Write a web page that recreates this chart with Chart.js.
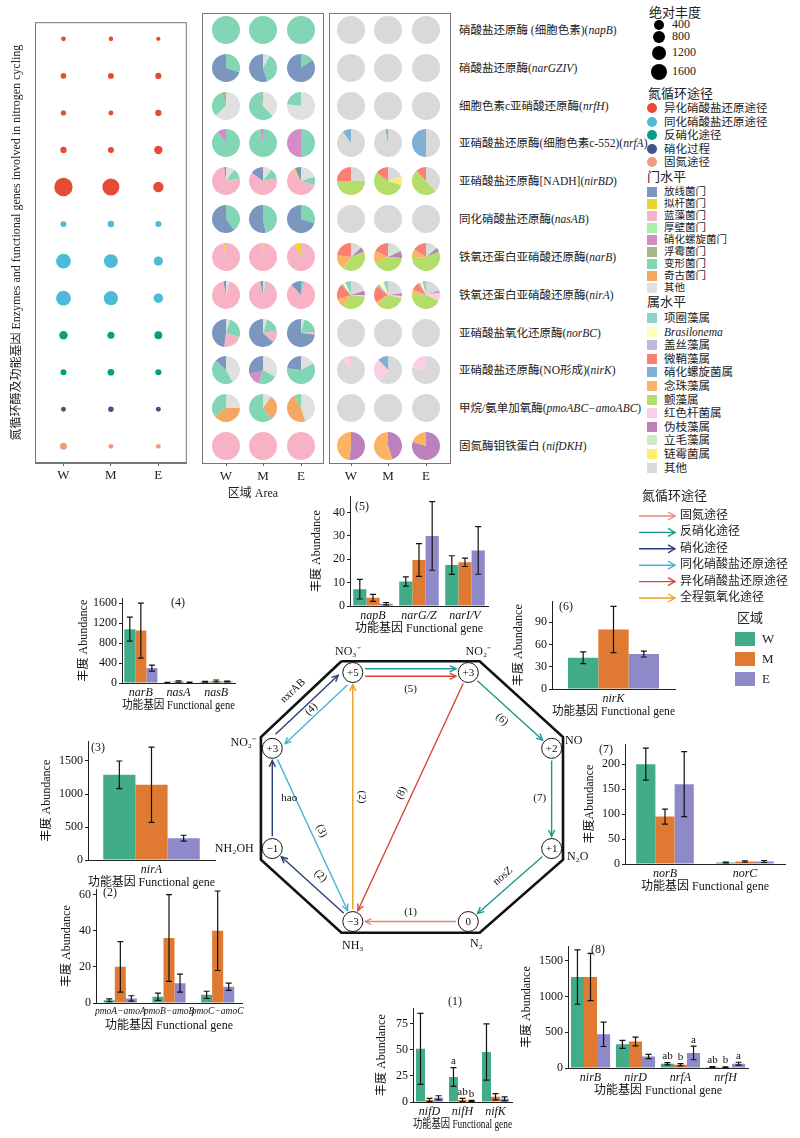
<!DOCTYPE html>
<html>
<head>
<meta charset="utf-8">
<title>Nitrogen cycling genes</title>
<script src="https://cdn.jsdelivr.net/npm/chart.js@4.4.1/dist/chart.umd.min.js"></script>
<style>
  body { margin: 0; background: #fff; }
  #page { position: relative; width: 800px; height: 1138px; overflow: hidden;
          font-family: 'Liberation Serif', 'Noto Sans CJK SC', serif; color: #222; }
  #page canvas { position: absolute; }
  .t { position: absolute; white-space: nowrap; line-height: 1.1; }
  .frame { position: absolute; border: 1px solid #777; box-sizing: border-box; }
</style>
</head>
<body>
<div id="page"></div>
<script>
// ---------- top panel data ----------
const sites = ['W', 'M', 'E'];
const siteColors = ['#40ad88', '#e07a32', '#8e89c8'];

const pathNames = ['异化硝酸盐还原途径', '同化硝酸盐还原途径', '反硝化途径', '硝化过程', '固氮途径'];
const pathColors = ['#e64b35', '#4dbbd5', '#00a087', '#3c5488', '#f39b7f'];

const geneNames = ['硝酸盐还原酶 (细胞色素)', '硝酸盐还原酶', '细胞色素c亚硝酸还原酶', '亚硝酸盐还原酶(细胞色素c-552)',
  '亚硝酸盐还原酶[NADH]', '同化硝酸盐还原酶', '铁氧还蛋白亚硝酸还原酶', '铁氧还蛋白亚硝酸还原酶',
  '亚硝酸盐氧化还原酶', '亚硝酸盐还原酶(NO形成)', '甲烷/氨单加氧酶', '固氮酶钼铁蛋白 '];
const geneCodes = ['napB', 'narGZIV', 'nrfH', 'nrfA', 'nirBD', 'nasAB', 'narB', 'nirA', 'norBC', 'nirK', 'pmoABC−amoABC', 'nifDKH'];
const genePath = [0, 0, 0, 0, 0, 1, 1, 1, 2, 2, 3, 4];

// absolute abundance (bubble size)
const abundW = [7, 28, 15, 60, 2300, 40, 1300, 1300, 205, 42, 8, 103];
const abundM = [4, 38, 10, 45, 1900, 70, 1100, 1150, 100, 80, 25, 9];
const abundE = [1, 54, 60, 210, 450, 45, 300, 330, 165, 47, 10, 8];
const sizeBreaks = [400, 800, 1200, 1600];

// phylum shares (%), legend order
const phylumNames = ['放线菌门', '拟杆菌门', '蓝藻菌门', '厚壁菌门', '硝化螺旋菌门', '浮霉菌门', '变形菌门', '奇古菌门', '其他'];
const phylumColors = ['#7b96bf', '#e8d530', '#f7b2c6', '#a6f5a6', '#d58cc6', '#a2b98a', '#82d6b6', '#f4a761', '#e0e0e0'];
const phylumW = [
  [0, 0, 0, 0, 0, 0, 100, 0, 0], [70, 0, 0, 0, 0, 0, 30, 0, 0], [0, 0, 0, 0, 0, 5, 32, 0, 63],
  [0, 0, 0, 0, 10, 0, 90, 0, 0], [2, 0, 76, 0, 0, 0, 12, 0, 10], [60, 0, 0, 0, 0, 0, 40, 0, 0],
  [0, 3, 97, 0, 0, 0, 0, 0, 0], [3, 0, 93, 0, 0, 0, 0, 0, 4], [48, 0, 22, 0, 0, 0, 25, 0, 5],
  [13, 0, 0, 0, 0, 0, 45, 0, 42], [0, 0, 0, 0, 0, 0, 35, 40, 25], [0, 0, 100, 0, 0, 0, 0, 0, 0]];
const phylumM = [
  [0, 0, 0, 0, 0, 0, 100, 0, 0], [55, 0, 0, 0, 0, 0, 37, 0, 8], [0, 0, 0, 0, 0, 2, 60, 0, 38],
  [0, 0, 0, 0, 3, 0, 97, 0, 0], [15, 0, 63, 0, 0, 0, 12, 0, 10], [53, 0, 0, 0, 0, 0, 47, 0, 0],
  [0, 0.6, 99.4, 0, 0, 0, 0, 0, 0], [3, 0, 92, 0, 0, 0, 2, 0, 3], [63, 0, 15, 0, 0, 0, 17, 0, 5],
  [30, 0, 0, 0, 15, 0, 22, 0, 33], [0, 0, 0, 0, 0, 0, 60, 30, 10], [0, 0, 100, 0, 0, 0, 0, 0, 0]];
const phylumE = [
  [0, 0, 0, 0, 0, 0, 100, 0, 0], [85, 0, 0, 0, 0, 0, 15, 0, 0], [0, 0, 0, 0, 0, 0, 23, 0, 77],
  [0, 0, 0, 0, 50, 0, 50, 0, 0], [7, 3, 60, 0, 0, 0, 10, 0, 20], [70, 0, 0, 0, 0, 0, 30, 0, 0],
  [0, 7, 93, 0, 0, 0, 0, 0, 0], [12, 0, 84, 0, 0, 0, 4, 0, 0], [73, 0, 3, 0, 0, 0, 20, 0, 4],
  [23, 0, 0, 0, 0, 0, 60, 0, 17], [0, 0, 0, 0, 0, 0, 8, 47, 45], [0, 0, 100, 0, 0, 0, 0, 0, 0]];

// genus shares (%), legend order
const genusNames = ['项圈藻属', 'Brasilonema', '盖丝藻属', '微鞘藻属', '硝化螺旋菌属', '念珠藻属', '颤藻属',
  '红色杆菌属', '伪枝藻属', '立毛藻属', '链霉菌属', '其他'];
const genusColors = ['#8dd3c7', '#ffffb3', '#bebada', '#fb8072', '#80b1d3', '#fdb462', '#b3de69',
  '#fccde5', '#bc80bd', '#ccebc5', '#ffed6f', '#d9d9d9'];
const genusW = [
  [0, 0, 0, 0, 0, 0, 0, 0, 0, 0, 0, 100], [0, 0, 0, 0, 0, 0, 0, 0, 0, 0, 0, 100], [0, 0, 0, 0, 0, 0, 0, 0, 0, 0, 0, 100],
  [0, 0, 0, 0, 10, 0, 0, 0, 0, 0, 0, 90], [0, 0, 0, 25, 0, 0, 50, 0, 0, 0, 0, 25], [0, 0, 0, 0, 0, 0, 0, 0, 0, 0, 0, 100],
  [0, 0, 0, 23, 0, 18, 40, 0, 6, 3, 0, 10], [7, 3, 2, 18, 0, 10, 33, 2, 5, 0, 0, 20], [0, 0, 0, 0, 0, 0, 0, 0, 0, 0, 0, 100],
  [0, 0, 0, 0, 0, 0, 0, 10, 0, 0, 0, 90], [0, 0, 0, 0, 0, 0, 0, 0, 0, 0, 0, 100], [0, 0, 0, 0, 0, 48, 0, 0, 52, 0, 0, 0]];
const genusM = [
  [0, 0, 0, 0, 0, 0, 0, 0, 0, 0, 0, 100], [0, 0, 0, 0, 0, 0, 0, 0, 0, 0, 0, 100], [0, 0, 0, 0, 0, 0, 0, 0, 0, 0, 0, 100],
  [0, 0, 0, 0, 3, 0, 0, 0, 0, 0, 0, 97], [0, 0, 0, 15, 0, 0, 55, 0, 0, 0, 10, 20], [0, 0, 0, 0, 0, 0, 0, 0, 0, 0, 0, 100],
  [0, 0, 0, 18, 0, 14, 42, 0, 8, 8, 0, 10], [5, 6, 3, 20, 0, 2, 35, 3, 3, 0, 0, 23], [0, 0, 0, 0, 0, 0, 0, 0, 0, 0, 0, 100],
  [0, 0, 0, 0, 12, 0, 0, 28, 0, 0, 0, 60], [0, 0, 0, 0, 0, 0, 0, 0, 0, 0, 0, 100], [0, 0, 0, 0, 0, 55, 0, 0, 45, 0, 0, 0]];
const genusE = [
  [0, 0, 0, 0, 0, 0, 0, 0, 0, 0, 0, 100], [0, 0, 0, 0, 0, 0, 0, 0, 0, 0, 0, 100], [0, 0, 0, 0, 0, 0, 0, 0, 0, 0, 0, 100],
  [0, 0, 0, 0, 50, 0, 0, 0, 0, 0, 0, 50], [0, 0, 0, 12, 0, 0, 50, 0, 0, 0, 0, 38], [0, 0, 0, 0, 0, 0, 0, 0, 0, 0, 0, 100],
  [0, 0, 0, 16, 0, 10, 55, 0, 5, 4, 0, 10], [4, 3, 2, 10, 0, 4, 45, 10, 2, 0, 0, 20], [0, 0, 0, 0, 0, 0, 0, 0, 0, 0, 0, 100],
  [0, 0, 0, 0, 0, 0, 0, 22, 0, 0, 0, 78], [0, 0, 0, 0, 0, 0, 0, 0, 0, 0, 0, 100], [0, 0, 0, 0, 0, 20, 0, 0, 80, 0, 0, 0]];

// ---------- bar chart data (mean, +/- error) ----------
const g1 = ['nifD', 'nifH', 'nifK'];
const v1W = [51, 24, 48], v1M = [2, 2, 5], v1E = [4, 1, 3];
const e1W = [34, 9, 27], e1M = [1.5, 1.5, 3], e1E = [2, 0.6, 2];
const s1W = ['', 'a', ''], s1M = ['', 'ab', ''], s1E = ['', 'b', ''];

const g2 = ['pmoA−amoA', 'pmoB−amoB', 'pmoC−amoC'];
const v2W = [1.5, 3.5, 4.5], v2M = [20, 36, 40], v2E = [2.5, 11, 9];
const e2W = [0.8, 2, 2], e2M = [14, 24, 22], e2E = [1.5, 5, 2];

const g3 = ['nirA'];
const v3W = [1290], v3M = [1140], v3E = [330];
const e3W = [210], e3M = [570], e3E = [45];

const g4 = ['narB', 'nasA', 'nasB'];
const v4W = [1080, 10, 25], v4M = [1050, 30, 40], v4E = [300, 12, 30];
const e4W = [240, 5, 8], e4M = [550, 15, 20], e4E = [60, 5, 10];

const g5 = ['napB', 'narG/Z', 'narI/V'];
const v5W = [7.2, 10.5, 17.5], v5M = [3.5, 19.7, 18.7], v5E = [1, 30, 23.8];
const e5W = [4.2, 2, 4], e5M = [1.5, 7, 1.8], e5E = [0.5, 14.7, 10.2];

const g6 = ['nirK'];
const v6W = [42], v6M = [80], v6E = [47];
const e6W = [8], e6M = [31], e6E = [4];

const g7 = ['norB', 'norC'];
const v7W = [200, 3], v7M = [95, 5], v7E = [160, 5];
const e7W = [32, 1], e7M = [15, 1.5], e7E = [65, 2];

const g8 = ['nirB', 'nirD', 'nrfA', 'nrfH'];
const v8W = [1270, 330, 60, 15], v8M = [1270, 370, 45, 10], v8E = [470, 160, 210, 60];
const e8W = [380, 55, 15, 5], e8M = [330, 60, 15, 5], e8E = [170, 30, 95, 20];
const s8W = ['', '', 'ab', 'ab'], s8M = ['', '', 'b', 'b'], s8E = ['', '', 'a', 'a'];

// ---------- nitrogen cycle diagram ----------
const nodeText = ['+5', '+3', '+2', '+1', '0', '−3', '−1', '+3'];
const nodeSpecies = ['NO₃⁻', 'NO₂⁻', 'NO', 'N₂O', 'N₂', 'NH₃', 'NH₂OH', 'NO₂⁻'];
const nodeX = [350, 472, 560, 560, 472, 350, 265, 265];
const nodeY = [664, 664, 745, 852, 930, 930, 852, 745];
const speciesDx = [-5, 10, 22, 26, 8, 0, -38, -29];
const speciesDy = [-21, -21, -8, 8, 22, 24, 0, -6];
const octX = [338, 484, 572, 572, 484, 338, 253, 253, 338];
const octY = [652, 652, 733, 864, 942, 942, 864, 733, 652];

const routeNames = ['固氮途径', '反硝化途径', '硝化途径', '同化硝酸盐还原途径', '异化硝酸盐还原途径', '全程氨氧化途径'];
const routeColors = ['#e38a74', '#159a8c', '#2c3e7a', '#46b4d8', '#d8453a', '#eb9f1c'];
const arrowFrom  = [4, 5, 6, 7, 0, 7, 0, 0, 1, 2, 3, 5, 1];
const arrowTo    = [5, 6, 7, 0, 7, 5, 1, 1, 2, 3, 4, 0, 5];
const arrowRoute = [0, 2, 2, 2, 3, 3, 1, 4, 1, 1, 1, 5, 4];
const arrowText  = ['(1)', '(2)', 'hao', 'nxrAB', '(4)', '(3)', '', '(5)', '(6)', '(7)', 'nosZ', '(2)', '(8)'];
const arrowShift = [[0, 0], [0, 0], [0, 0], [-6, -6], [4, 4], [0, 0], [0, -4], [0, 4], [0, 0], [0, 0], [0, 0], [0, 0], [0, 0]];
const labelShift = [[0, -9], [8, -9], [17, 0], [-14, -14], [-5, -5], [9, -4], [0, 0], [0, 13], [-8, 9], [-12, 0], [-7, -9], [9, 0], [-9, -4]];
const labelRot   = [false, true, false, true, true, true, false, false, true, false, true, true, true];

// ---------- helpers ----------
const SERIF = "'Liberation Serif','Noto Sans CJK SC',serif";
Chart.defaults.font.family = SERIF;
Chart.defaults.color = '#111';
Chart.defaults.animation = false;

const page = document.getElementById('page');

function mkCanvas(l, t, w, h) {
  const c = document.createElement('canvas');
  c.width = w; c.height = h;
  c.style.left = l + 'px'; c.style.top = t + 'px';
  c.style.width = w + 'px'; c.style.height = h + 'px';
  page.appendChild(c);
  return c;
}

function text(html, x, y, size, align) {
  const d = document.createElement('div');
  d.className = 't';
  d.style.left = x + 'px'; d.style.top = y + 'px';
  d.style.fontSize = size + 'px';
  const tx = align === 'center' ? '-50%' : align === 'right' ? '-100%' : '0';
  d.style.transform = `translate(${tx},-50%)`;
  d.innerHTML = html;
  page.appendChild(d);
}

function block(x, y, w, h, color, round) {
  const d = document.createElement('div');
  d.style.position = 'absolute';
  d.style.left = x + 'px'; d.style.top = y + 'px';
  d.style.width = w + 'px'; d.style.height = h + 'px';
  d.style.background = color;
  if (round) d.style.borderRadius = '50%';
  page.appendChild(d);
}

const bubbleR = v => 2 + 0.15 * Math.sqrt(v);

const framePlugin = {
  id: 'frame',
  afterDraw(chart) {
    const a = chart.chartArea, ctx = chart.ctx;
    ctx.save();
    ctx.strokeStyle = '#777';
    ctx.lineWidth = 1;
    ctx.strokeRect(a.left + 0.5, a.top + 0.5, a.right - a.left - 1, a.bottom - a.top - 1);
    ctx.restore();
  }
};

const errPlugin = {
  id: 'errBars',
  afterDatasetsDraw(chart) {
    const ctx = chart.ctx, ys = chart.scales.y;
    ctx.save();
    chart.data.datasets.forEach((ds, i) => {
      chart.getDatasetMeta(i).data.forEach((bar, j) => {
        const v = ds.data[j], e = ds.err[j];
        const top = ys.getPixelForValue(v + e);
        const bot = ys.getPixelForValue(Math.max(v - e, 0));
        ctx.strokeStyle = '#111';
        ctx.lineWidth = 1.2;
        ctx.beginPath();
        ctx.moveTo(bar.x, top); ctx.lineTo(bar.x, bot);
        ctx.moveTo(bar.x - 3, top); ctx.lineTo(bar.x + 3, top);
        ctx.moveTo(bar.x - 3, bot); ctx.lineTo(bar.x + 3, bot);
        ctx.stroke();
        if (ds.sig && ds.sig[j]) {
          ctx.fillStyle = '#111';
          ctx.font = '11px ' + SERIF;
          ctx.textAlign = 'center';
          ctx.textBaseline = 'bottom';
          ctx.fillText(ds.sig[j], bar.x, top - 1);
        }
      });
    });
    ctx.restore();
  }
};

// ---------- top: bubble panel ----------
const bubbleCanvas = mkCanvas(10, 13, 186, 472);
new Chart(bubbleCanvas, {
  type: 'bubble',
  data: {
    datasets: [abundW, abundM, abundE].map((arr, c) => ({
      label: sites[c],
      data: arr.map((v, i) => ({ x: c + 1, y: i + 1, r: bubbleR(v) })),
      backgroundColor: genePath.map(p => pathColors[p]),
      borderWidth: 0
    }))
  },
  options: {
    responsive: false,
    events: [],
    layout: { padding: { top: 0, right: 1, left: 0, bottom: 0 } },
    plugins: { legend: { display: false }, tooltip: { enabled: false } },
    scales: {
      x: {
        type: 'linear', min: 0.4, max: 3.6,
        afterBuildTicks: s => { s.ticks = sites.map((_, i) => ({ value: i + 1 })); },
        ticks: { callback: v => sites[v - 1], font: { size: 13 }, color: '#222', padding: 2 },
        grid: { drawOnChartArea: false, tickLength: 3, color: '#666' },
        border: { color: '#777' },
        afterFit: s => { s.height = 22; }
      },
      y: {
        type: 'linear', min: 0.55, max: 12.45, reverse: true,
        ticks: { display: false },
        grid: { display: false },
        border: { display: false },
        title: { display: true, text: '氮循环酶及功能基因 Enzymes and functional genes involved in nitrogen cycling',
                 font: { size: 12 }, color: '#222', padding: 0 },
        afterFit: s => { s.width = 25; }
      }
    }
  },
  plugins: [framePlugin]
});

// ---------- top: pie grids ----------
const rowY = i => 13 + (i + 0.45) * (450 / 11.9);
const pieCols1 = [226, 263, 301];
const pieCols2 = [351, 388, 426];

function pieCell(cx, cy, values, colors, names) {
  const size = 28;
  const c = mkCanvas(Math.round(cx - size / 2), Math.round(cy - size / 2), size, size);
  new Chart(c, {
    type: 'pie',
    data: {
      labels: names.slice().reverse(),
      datasets: [{ data: values.slice().reverse(), backgroundColor: colors.slice().reverse(), borderWidth: 0 }]
    },
    options: {
      responsive: false, events: [],
      plugins: { legend: { display: false }, tooltip: { enabled: false } }
    }
  });
}

[phylumW, phylumM, phylumE].forEach((rows, c) => {
  rows.forEach((vals, i) => pieCell(pieCols1[c], rowY(i), vals, phylumColors, phylumNames));
});
[genusW, genusM, genusE].forEach((rows, c) => {
  rows.forEach((vals, i) => pieCell(pieCols2[c], rowY(i), vals, genusColors, genusNames));
});

[[202, pieCols1], [329, pieCols2]].forEach(([left, cols]) => {
  const f = document.createElement('div');
  f.className = 'frame';
  f.style.left = left + 'px'; f.style.top = '13px';
  f.style.width = '122px'; f.style.height = '451px';
  page.appendChild(f);
  cols.forEach((x, c) => {
    block(x, 463, 1, 3, '#666');
    text(sites[c], x, 476, 13, 'center');
  });
});
text('区域 Area', 253, 494, 12, 'center');

// gene labels
geneNames.forEach((n, i) => {
  text(n + '(<i>' + geneCodes[i] + '</i>)', 459, rowY(i), 11.5, 'left');
});

// top legend
const sizeY = [25, 37, 53, 72];
text('绝对丰度', 649, 13, 13);
sizeBreaks.forEach((v, i) => {
  const r = bubbleR(v);
  block(659 - r, sizeY[i] - r, 2 * r, 2 * r, '#000', true);
  text(String(v), 672, sizeY[i], 12);
});
text('氮循环途径', 648, 94, 13);
pathNames.forEach((n, i) => {
  const y = 108 + i * 13.5;
  block(647, y - 5, 10, 10, pathColors[i], true);
  text(n, 664, y, 11.5);
});
text('门水平', 647, 177, 13);
phylumNames.forEach((n, i) => {
  const y = 192 + i * 12;
  block(647, y - 5, 10, 10, phylumColors[i]);
  text(n, 664, y, 10.5);
});
text('属水平', 647, 302, 13);
genusNames.forEach((n, i) => {
  const y = 318 + i * 13.6;
  block(647, y - 5, 10, 10, genusColors[i]);
  text(n === 'Brasilonema' ? '<i>' + n + '</i>' : n, 664, y, 11.5);
});

// ---------- bottom: bar panels ----------
function barPanel(p) {
  const left = p.L - p.yW, top = p.T - 8, padR = 16, xH = 30;
  const c = mkCanvas(left, top, p.R + padR - left, p.B + xH - top);
  const sets = [[p.W, p.eW, p.sW], [p.M, p.eM, p.sM], [p.E, p.eE, p.sE]];
  new Chart(c, {
    type: 'bar',
    data: {
      labels: p.cats,
      datasets: sets.map((s, k) => ({
        label: sites[k], data: s[0], err: s[1], sig: s[2],
        backgroundColor: siteColors[k], borderWidth: 0,
        barPercentage: 1, categoryPercentage: p.catPct
      }))
    },
    options: {
      responsive: false, events: [],
      layout: { padding: { top: 8, right: padR, left: 0, bottom: 0 } },
      plugins: { legend: { display: false }, tooltip: { enabled: false } },
      scales: {
        x: {
          grid: { display: false, drawTicks: false },
          border: { display: true, color: '#222' },
          ticks: { font: { size: p.catSize || 12, style: 'italic' }, color: '#111', padding: 3,
                   maxRotation: 0, autoSkip: false },
          title: { display: true, text: '功能基因 Functional gene', font: { size: 12 }, color: '#111', padding: 0 },
          afterFit: s => { s.height = xH; }
        },
        y: {
          min: 0, max: p.yMax,
          afterBuildTicks: s => { s.ticks = p.ticks.map(v => ({ value: v })); },
          grid: { drawOnChartArea: false, tickLength: 3, color: '#222' },
          border: { color: '#222' },
          ticks: { font: { size: 12 }, color: '#111', padding: 2, callback: v => String(v) },
          title: { display: true, text: p.yTitle || '丰度 Abundance', font: { size: 12 }, color: '#111', padding: 0 },
          afterFit: s => { s.width = p.yW; }
        }
      }
    },
    plugins: [errPlugin]
  });
  text(p.tag, p.tagX, p.tagY, 12, 'center');
}

barPanel({ tag: '(1)', tagX: 455, tagY: 1002, L: 413, R: 512, T: 1007, B: 1102, yW: 38, yMax: 90, ticks: [0, 25, 50, 75],
  cats: g1, W: v1W, M: v1M, E: v1E, eW: e1W, eM: e1M, eE: e1E, sW: s1W, sM: s1M, sE: s1E, catPct: 0.82 });
barPanel({ tag: '(2)', tagX: 110, tagY: 893, L: 96, R: 242, T: 888, B: 1003, yW: 36, yMax: 63, ticks: [0, 20, 40, 60],
  cats: g2, W: v2W, M: v2M, E: v2E, eW: e2W, eM: e2M, eE: e2E, catPct: 0.68, catSize: 9.5 });
barPanel({ tag: '(3)', tagX: 98, tagY: 748, L: 88, R: 215, T: 740, B: 860, yW: 48, yMax: 1800, ticks: [0, 500, 1000, 1500],
  cats: g3, W: v3W, M: v3M, E: v3E, eW: e3W, eM: e3M, eE: e3E, catPct: 0.76 });
barPanel({ tag: '(4)', tagX: 178, tagY: 603, L: 122, R: 235, T: 597, B: 683, yW: 45, yMax: 1700, ticks: [0, 400, 800, 1200, 1600],
  cats: g4, W: v4W, M: v4M, E: v4E, eW: e4W, eM: e4M, eE: e4E, catPct: 0.88 });
barPanel({ tag: '(5)', tagX: 362, tagY: 507, L: 350, R: 488, T: 495, B: 606, yW: 40, yMax: 47, ticks: [0, 10, 20, 30, 40],
  cats: g5, W: v5W, M: v5M, E: v5E, eW: e5W, eM: e5M, eE: e5E, catPct: 0.86 });
barPanel({ tag: '(6)', tagX: 566, tagY: 607, L: 552, R: 675, T: 600, B: 689, yW: 40, yMax: 118, ticks: [0, 30, 60, 90],
  cats: g6, W: v6W, M: v6M, E: v6E, eW: e6W, eM: e6M, eE: e6E, catPct: 0.74 });
barPanel({ tag: '(7)', tagX: 606, tagY: 750, L: 625, R: 785, T: 743, B: 864, yW: 42, yMax: 240, ticks: [0, 50, 100, 150, 200],
  cats: g7, W: v7W, M: v7M, E: v7E, eW: e7W, eM: e7M, eE: e7E, catPct: 0.72, yTitle: '丰度Abundance' });
barPanel({ tag: '(8)', tagX: 598, tagY: 950, L: 568, R: 748, T: 945, B: 1068, yW: 48, yMax: 1700, ticks: [0, 500, 1000, 1500],
  cats: g8, W: v8W, M: v8M, E: v8E, eW: e8W, eM: e8M, eE: e8E, sW: s8W, sM: s8M, sE: s8E, catPct: 0.87 });

// ---------- bottom: nitrogen cycle diagram ----------
const diagPlugin = {
  id: 'diagText',
  afterDatasetsDraw(chart) {
    const ctx = chart.ctx;
    ctx.save();
    ctx.textAlign = 'center';
    ctx.textBaseline = 'middle';
    chart.data.datasets.forEach((ds, i) => {
      if (!ds.arrow) return;
      const [a, b] = chart.getDatasetMeta(i).data;
      const ang = Math.atan2(b.y - a.y, b.x - a.x);
      ctx.strokeStyle = ds.borderColor;
      ctx.lineWidth = 1.4;
      ctx.beginPath();
      ctx.moveTo(b.x - 7 * Math.cos(ang - 0.45), b.y - 7 * Math.sin(ang - 0.45));
      ctx.lineTo(b.x, b.y);
      ctx.lineTo(b.x - 7 * Math.cos(ang + 0.45), b.y - 7 * Math.sin(ang + 0.45));
      ctx.stroke();
      if (ds.tag) {
        let r = ang;
        if (r > Math.PI / 2) r -= Math.PI;
        if (r <= -Math.PI / 2) r += Math.PI;
        ctx.save();
        ctx.translate((a.x + b.x) / 2 + ds.lx, (a.y + b.y) / 2 + ds.ly);
        if (ds.rot) ctx.rotate(r);
        ctx.fillStyle = '#111';
        ctx.font = '11px ' + SERIF;
        ctx.fillText(ds.tag, 0, 0);
        ctx.restore();
      }
    });
    const nodes = chart.getDatasetMeta(0).data;
    nodes.forEach((pt, i) => {
      ctx.fillStyle = '#111';
      ctx.font = '11px ' + SERIF;
      ctx.fillText(nodeText[i], pt.x, pt.y + 0.5);
      ctx.font = '12px ' + SERIF;
      ctx.fillText(nodeSpecies[i], pt.x + speciesDx[i], pt.y + speciesDy[i]);
    });
    ctx.restore();
  }
};

const arrowSets = arrowFrom.map((f, k) => {
  const t = arrowTo[k], [sx, sy] = arrowShift[k];
  const x1 = nodeX[f] + sx, y1 = nodeY[f] + sy, x2 = nodeX[t] + sx, y2 = nodeY[t] + sy;
  const len = Math.hypot(x2 - x1, y2 - y1), ux = (x2 - x1) / len, uy = (y2 - y1) / len, gap = 13;
  return {
    data: [{ x: x1 + ux * gap, y: y1 + uy * gap }, { x: x2 - ux * gap, y: y2 - uy * gap }],
    showLine: true, pointRadius: 0, borderColor: routeColors[arrowRoute[k]], borderWidth: 1.4,
    order: 1, arrow: true, tag: arrowText[k], lx: labelShift[k][0], ly: labelShift[k][1], rot: labelRot[k]
  };
});

const diagCanvas = mkCanvas(195, 625, 415, 345);
new Chart(diagCanvas, {
  type: 'scatter',
  data: {
    datasets: [
      { data: nodeX.map((x, i) => ({ x, y: nodeY[i] })), pointRadius: 10, pointBackgroundColor: '#fff',
        pointBorderColor: '#111', pointBorderWidth: 1, showLine: false, order: 0 },
      ...arrowSets,
      { data: octX.map((x, i) => ({ x, y: octY[i] })), showLine: true, pointRadius: 0,
        borderColor: '#111', borderWidth: 2.6, order: 2 }
    ]
  },
  options: {
    responsive: false, events: [],
    layout: { padding: 0 },
    plugins: { legend: { display: false }, tooltip: { enabled: false } },
    scales: {
      x: { type: 'linear', min: 195, max: 610, display: false },
      y: { type: 'linear', min: 625, max: 970, reverse: true, display: false }
    }
  },
  plugins: [diagPlugin]
});

// bottom legend
text('氮循环途径', 642, 496, 13);
let svg = '<svg width="50" height="100" style="position:absolute;left:634px;top:506px">';
routeNames.forEach((n, i) => {
  const y = 10 + i * 16.4, c = routeColors[i];
  svg += `<line x1="5" y1="${y}" x2="41" y2="${y}" stroke="${c}" stroke-width="1.4"/>` +
         `<polyline points="34,${y - 4} 41,${y} 34,${y + 4}" fill="none" stroke="${c}" stroke-width="1.4"/>`;
  text(n, 680, 516 + i * 16.4, 12);
});
page.insertAdjacentHTML('beforeend', svg + '</svg>');

text('区域', 737, 618, 13);
sites.forEach((s, i) => {
  block(735, 632 + i * 20, 20, 14, siteColors[i]);
  text(s, 762, 639 + i * 20, 13);
});
</script>
</body>
</html>
